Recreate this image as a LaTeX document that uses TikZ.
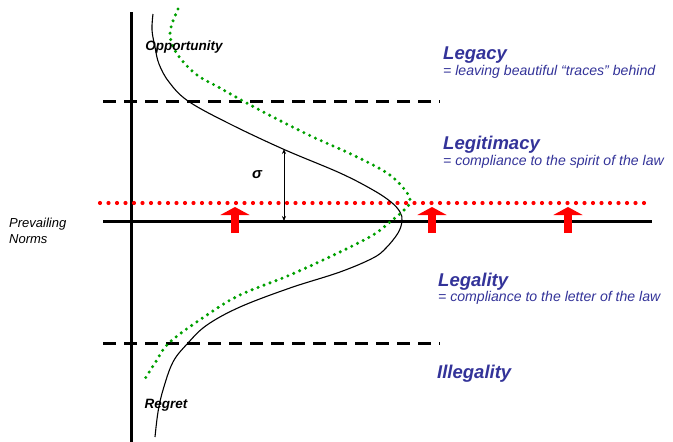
\documentclass[tikz,border=0pt]{standalone}
\usepackage{fontspec}
\setmainfont{Liberation Sans}
\usepackage{xcolor}
\usetikzlibrary{arrows.meta}
\definecolor{levelnavy}{HTML}{333399}
\definecolor{shiftgreen}{HTML}{00A000}
\definecolor{normred}{HTML}{FF0000}

\begin{document}
\begin{tikzpicture}[
  x=1pt,
  y=-1pt,
  every node/.style={inner sep=0pt},
  axisline/.style={black, line width=3pt},
  levelline/.style={black, line width=3pt, dash pattern=on 13pt off 8pt},
  normline/.style={normred, line width=4.2pt, line cap=round, dash pattern=on 0pt off 8.5pt},
  curveline/.style={black, line width=1.1pt},
  shiftcurve/.style={shiftgreen, line width=3.4pt, line cap=round, dash pattern=on 0pt off 6.4pt},
  pusharrow/.style={normred, line width=8pt, -{Triangle[length=8pt, width=29pt]}},
  sigmaarrow/.style={black, line width=0.7pt, {Stealth[length=5pt, width=4pt]}-{Stealth[length=5pt, width=4pt]}},
  levelname/.style={levelnavy, anchor=west, font=\fontsize{18.5}{20}\selectfont\bfseries\itshape},
  levelnote/.style={levelnavy, anchor=west, font=\fontsize{14.1}{15}\selectfont\itshape},
  marklabel/.style={black, font=\fontsize{13.5}{15}\selectfont\bfseries\itshape}
]
  % ---- fixed frame, same size as the reference ----
  \path[use as bounding box] (0,0) rectangle (673,442);

  % ---- levels and axes ----
  \draw[levelline] (103,101) -- (440,101);
  \draw[levelline] (103,343) -- (440,343);
  \draw[axisline] (131,12) -- (131,442);
  \draw[axisline] (103,221) -- (652,221);
  \draw[normline] (100,203) -- (652,203);

  % ---- distribution around the prevailing norms ----
  \draw[curveline] plot[smooth, tension=0.6] coordinates {
    (153,14) (152,30) (155,47) (159,64) (169,82) (188,101) (228,123)
    (283,149) (340,173) (373,190) (391,202) (400,212) (402,221)
    (398,233) (386,248) (373,258) (340,272) (290,288) (240,307) (207,325)
    (188,343) (173,362) (163,390) (158,412) (155,437)};

  % ---- shifted distribution, dotted ----
  \draw[shiftcurve] plot[smooth, tension=0.6] coordinates {
    (178,9) (175,16) (172,24) (170,33) (172,44) (180,58) (197,75) (220,88)
    (243,101) (273,117) (313,137) (353,155) (387,173) (405,190) (410,202)
    (403,211) (390,222) (373,235) (340,252) (290,275) (240,295) (207,315)
    (170,342) (155,363) (143,382)};

  % ---- sigma ----
  \coordinate (sigtop) at (284,149);
  \coordinate (sigbot) at (284,221);
  \draw[sigmaarrow] (sigtop) -- (sigbot);
  \node[marklabel, font=\fontsize{15}{16}\selectfont\bfseries\itshape] (sigma) at (257,175) {σ};

  % ---- norms pushed upwards ----
  \foreach \x [count=\i] in {235,432,568} {
    \coordinate (pushbase\i) at (\x,233);
    \coordinate (pushtip\i) at (\x,207);
    \draw[pusharrow] (pushbase\i) -- (pushtip\i);
  }

  % ---- labels on the curve ----
  \node[marklabel] (opportunity) at (184,47) {Opportunity};
  \node[marklabel] (regret) at (166,405) {Regret};
  \node[anchor=west, align=left, font=\fontsize{13}{15.5}\selectfont\itshape] (norms) at (9,231)
    {Prevailing\\Norms};

  % ---- levels ----
  \node[levelname] (legacy) at (443,55) {Legacy};
  \node[levelnote] (legacynote) at (443,72) {= leaving beautiful “traces” behind};
  \node[levelname] (legitimacy) at (443,145) {Legitimacy};
  \node[levelnote] (legitimacynote) at (443,162) {= compliance to the spirit of the law};
  \node[levelname] (legality) at (438,282) {Legality};
  \node[levelnote] (legalitynote) at (438,298) {= compliance to the letter of the law};
  \node[levelname] (illegality) at (437,374) {Illegality};
\end{tikzpicture}
\end{document}
